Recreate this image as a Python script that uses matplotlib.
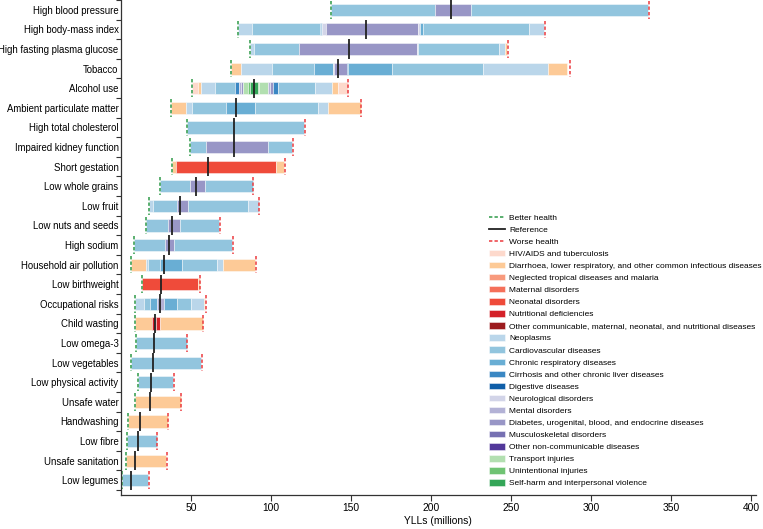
import matplotlib
matplotlib.use("Agg")
import matplotlib.pyplot as plt
from matplotlib.lines import Line2D
from matplotlib.patches import Patch

plt.rcParams['font.family'] = ['Liberation Sans Narrow', 'Liberation Sans', 'DejaVu Sans']

# risk factors, top to bottom
risks = ['High blood pressure', 'High body-mass index', 'High fasting plasma glucose', 'Tobacco',
         'Alcohol use', 'Ambient particulate matter', 'High total cholesterol', 'Impaired kidney function',
         'Short gestation', 'Low whole grains', 'Low fruit', 'Low nuts and seeds', 'High sodium',
         'Household air pollution', 'Low birthweight', 'Occupational risks', 'Child wasting',
         'Low omega-3', 'Low vegetables', 'Low physical activity', 'Unsafe water', 'Handwashing',
         'Low fibre', 'Unsafe sanitation', 'Low legumes']

better = [137.3, 79.6, 86.5, 74.8, 50.4, 37.5, 47.3, 49.4, 38.3, 30.8, 23.5, 21.7, 14.6,
          12.7, 19.2, 15.0, 14.8, 15.6, 12.7, 16.7, 14.8, 10.8, 10.2, 9.2, 7.1]
reference = [212.5, 159.6, 148.75, 142.0, 89.4, 78.1, 77.0, 76.5, 60.4, 53.1, 43.3, 38.3, 36.0,
             33.1, 31.0, 30.6, 27.5, 26.9, 26.0, 25.2, 24.0, 18.3, 16.5, 15.2, 12.5]
worse = [336.0, 271.2, 248.3, 286.9, 148.3, 156.25, 121.0, 113.75, 108.75, 88.9, 92.7, 68.1, 76.25,
         90.4, 55.6, 59.4, 57.7, 47.7, 56.7, 39.2, 43.75, 35.6, 28.9, 34.8, 23.5]

# cause of each segment (left to right) and the right edge of that segment
seg_causes = [
    ['cvd', 'diab', 'cvd'],
    ['neop', 'cvd', 'resp', 'cirr', 'neuro', 'diab', 'neuro', 'resp', 'cvd', 'neop'],
    ['neop', 'cvd', 'diab', 'neuro', 'cvd', 'neop', 'diar'],
    ['diar', 'neop', 'cvd', 'resp', 'neuro', 'diab', 'cirr', 'resp', 'cvd', 'neop', 'diar'],
    ['hiv', 'diar', 'neop', 'cvd', 'cirr', 'ment', 'diab', 'trans', 'unint', 'self', 'unint', 'trans',
     'ment', 'diab', 'cirr', 'cvd', 'neop', 'diar', 'hiv'],
    ['diar', 'neop', 'cvd', 'resp', 'cvd', 'neop', 'diar'],
    ['cvd'],
    ['cvd', 'diab', 'cvd'],
    ['diar', 'neo', 'diar'],
    ['cvd', 'diab', 'cvd'],
    ['neop', 'cvd', 'diab', 'cvd', 'neop'],
    ['cvd', 'diab', 'cvd'],
    ['cvd', 'diab', 'cvd'],
    ['diar', 'neop', 'cvd', 'resp', 'cvd', 'neop', 'diar'],
    ['neo', 'diar'],
    ['neop', 'cvd', 'resp', 'ment', 'resp', 'cvd', 'neop', 'diar'],
    ['diar', 'nut', 'ocmn', 'nut', 'diar'],
    ['cvd'],
    ['cvd'],
    ['cvd'],
    ['diar'],
    ['diar'],
    ['cvd'],
    ['diar'],
    ['cvd'],
]
seg_edges = [
    [202.5, 225.0, 335.8],
    [88.3, 130.4, 131.2, 132.0, 134.2, 192.0, 193.1, 194.8, 261.4, 270.8],
    [89.4, 117.7, 191.0, 191.7, 242.5, 246.3, 247.3],
    [81.0, 100.4, 126.9, 138.5, 139.4, 147.3, 148.3, 175.4, 232.7, 273.3, 285.2],
    [54.2, 56.25, 65.0, 77.5, 80.2, 81.25, 82.7, 85.4, 86.9, 92.0, 92.7, 98.3,
     99.5, 101.0, 104.6, 127.5, 137.9, 141.5, 148.3],
    [46.7, 50.4, 71.7, 90.0, 129.0, 135.4, 156.25],
    [120.6],
    [59.2, 98.3, 113.3],
    [40.4, 102.9, 108.3],
    [49.4, 58.75, 88.5],
    [26.25, 41.0, 48.1, 85.6, 92.3],
    [35.6, 43.1, 67.7],
    [33.75, 39.0, 75.8],
    [21.7, 22.9, 30.6, 44.0, 66.0, 69.8, 90.0],
    [54.6, 55.6],
    [20.6, 24.4, 28.6, 33.3, 41.0, 50.0, 58.1, 58.9],
    [25.4, 27.2, 28.0, 30.6, 57.3],
    [47.3],
    [56.25],
    [38.9],
    [43.75],
    [35.4],
    [28.75],
    [34.6],
    [23.3],
]

cause_keys = ['hiv', 'diar', 'ntd', 'mat', 'neo', 'nut', 'ocmn', 'neop', 'cvd', 'resp', 'cirr', 'dig',
              'neuro', 'ment', 'diab', 'msk', 'oncd', 'trans', 'unint', 'self']
cause_names = ['HIV/AIDS and tuberculosis',
               'Diarrhoea, lower respiratory, and other common infectious diseases',
               'Neglected tropical diseases and malaria', 'Maternal disorders', 'Neonatal disorders',
               'Nutritional deficiencies',
               'Other communicable, maternal, neonatal, and nutritional diseases',
               'Neoplasms', 'Cardiovascular diseases', 'Chronic respiratory diseases',
               'Cirrhosis and other chronic liver diseases', 'Digestive diseases',
               'Neurological disorders', 'Mental disorders',
               'Diabetes, urogenital, blood, and endocrine diseases', 'Musculoskeletal disorders',
               'Other non-communicable diseases', 'Transport injuries', 'Unintentional injuries',
               'Self-harm and interpersonal violence']
cause_colors = ['#fdd9cc', '#fdca97', '#f89a7d', '#f5705a', '#ef4b3a', '#d42128', '#9c1b1e',
                '#bad6ea', '#92c5de', '#69aed4', '#3a87c3', '#0f5ea8',
                '#d2d4e8', '#b3b2d6', '#9896c6', '#7670b2', '#52389a',
                '#b2dfb0', '#6fc373', '#34a658']
col = dict(zip(cause_keys, cause_colors))

green = '#2e9a48'
red = '#ec3b3f'
dash = (0, (2.2, 1.4))

fig = plt.figure(figsize=(7.63, 5.29), dpi=100)
ax = fig.add_axes([120.7 / 763, 1 - 495 / 529, (756 - 120.7) / 763, 495 / 529])

bar_h = 0.62
for i in range(len(risks)):
    left = better[i]
    for c, e in zip(seg_causes[i], seg_edges[i]):
        ax.barh(i, e - left, left=left, height=bar_h, color=col[c],
                edgecolor=(1, 1, 1, 0.45), linewidth=0.7)
        left = e
    ax.vlines(better[i], i - 0.45, i + 0.45, colors=green, linestyles=dash, linewidth=1.1)
    ax.vlines(worse[i], i - 0.45, i + 0.45, colors=red, linestyles=dash, linewidth=1.1)
    ax.vlines(reference[i], i - 0.49, i + 0.49, colors='#222222', linewidth=1.3)

ax.set_xlim(6, 403)
ax.set_ylim(24.75, -0.5)
ax.set_yticks(range(len(risks)))
ax.set_yticklabels(risks, fontsize=6.9)
ax.set_yticks([k - 0.5 for k in range(len(risks) + 1)], minor=True)
ax.tick_params(axis='y', which='major', length=0, pad=1.5)
ax.tick_params(axis='y', which='minor', length=3.5, width=0.8, color='#333333')
ax.set_xticks([50, 100, 150, 200, 250, 300, 350, 400])
ax.tick_params(axis='x', length=4, width=0.8, color='#333333', labelsize=7.4, pad=2)
ax.set_xlabel('YLLs (millions)', fontsize=7.4, labelpad=2)
for s in ['top', 'right']:
    ax.spines[s].set_visible(False)
for s in ['left', 'bottom']:
    ax.spines[s].set_color('#333333')
    ax.spines[s].set_linewidth(0.9)

handles = [Line2D([], [], color=green, linestyle=dash, linewidth=1.1),
           Line2D([], [], color='#222222', linewidth=1.3),
           Line2D([], [], color=red, linestyle=dash, linewidth=1.1)]
labels = ['Better health', 'Reference', 'Worse health']
for c, n in zip(cause_colors, cause_names):
    handles.append(Patch(facecolor=c, edgecolor=(1, 1, 1, 0.45), linewidth=0.7))
    labels.append(n)
fig.legend(handles, labels, loc='upper left', bbox_to_anchor=(489 / 763, 1 - 213.5 / 529),
           frameon=False, fontsize=6.05, borderpad=0, borderaxespad=0,
           handlelength=1.95, handleheight=0.8, handletextpad=0.45, labelspacing=0.47)

fig.savefig('out.png', dpi=100)
